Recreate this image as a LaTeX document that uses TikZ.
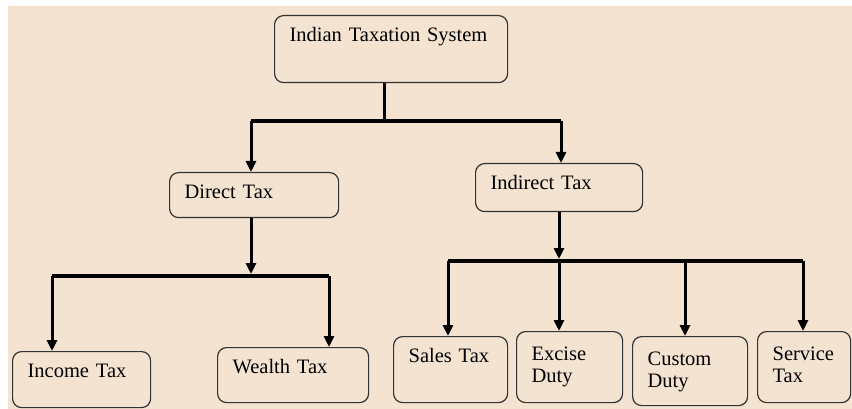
\documentclass[tikz,border=0pt]{standalone}
\usepackage{fontspec}
\setmainfont{Liberation Serif}
\usetikzlibrary{arrows.meta}
\definecolor{paper}{RGB}{244,227,208}
\colorlet{boxline}{black!80}

\begin{document}
\begin{tikzpicture}[x=1pt,y=-1pt]
\tikzset{box/.style={draw=boxline,line width=1.2pt,rounded corners=9pt,anchor=north west,align=left,
  inner xsep=15pt,inner ysep=0pt,text height=26pt,font=\fontsize{20.5}{22}\selectfont}}
\tikzset{wire/.style={line width=3pt}}
\tikzset{bar/.style={line width=3.6pt}}
\tikzset{arr/.style={line width=3pt,-{Triangle[length=11pt,width=10pt]}}}
\useasboundingbox (0,0) rectangle (852,409);
\fill[paper] (8,6) rectangle (852,409);
% boxes
\node[box,text width=203pt,text depth=41pt] (sys) at (274,15) {Indian Taxation System};
\node[box,text width=139pt,text depth=19pt] (direct) at (169,172) {Direct Tax};
\node[box,text width=137pt,text depth=22pt] (indirect) at (475,163) {Indirect Tax};
\node[box,text width=108pt,text depth=30pt] (income) at (12,351) {Income Tax};
\node[box,text width=121pt,text depth=29pt] (wealth) at (217,347) {Wealth Tax};
\node[box,text width=84pt,text depth=40pt] (sales) at (393,336) {Sales Tax};
\node[box,text width=76pt,text depth=42pt,text height=29pt] (excise) at (516,331) {Excise\\Duty};
\node[box,text width=85pt,text depth=40pt,text height=29pt] (custom) at (632,336) {Custom\\Duty};
\node[box,text width=63pt,text depth=42pt,text height=29pt] (service) at (757,331) {Service\\Tax};
% first level
\coordinate (t1) at (384,121);
\coordinate (t1l) at (251,121);
\coordinate (t1r) at (561,121);
\draw[wire] (t1 |- sys.south) -- (t1);
\draw[bar] (t1l) -- (t1r);
\draw[arr] (t1l) -- (t1l |- direct.north);
\draw[arr] (t1r) -- (t1r |- indirect.north);
% direct tax
\coordinate (t2) at (251,276);
\coordinate (t2l) at (52,276);
\coordinate (t2r) at (329,276);
\draw[arr,shorten >=2pt] (t2 |- direct.south) -- (t2);
\draw[bar] (t2l) -- (t2r);
\draw[arr] (t2l) -- (t2l |- income.north);
\draw[arr] (t2r) -- (t2r |- wealth.north);
% indirect tax
\coordinate (t3) at (559,261);
\coordinate (t3l) at (448,261);
\coordinate (t3c) at (685,261);
\coordinate (t3r) at (803,261);
\draw[arr,shorten >=2pt] (t3 |- indirect.south) -- (t3);
\draw[bar] (t3l) -- (t3r);
\draw[arr] (t3l) -- (t3l |- sales.north);
\draw[arr] (t3) -- (t3 |- excise.north);
\draw[arr] (t3c) -- (t3c |- custom.north);
\draw[arr] (t3r) -- (t3r |- service.north);
\end{tikzpicture}
\end{document}
